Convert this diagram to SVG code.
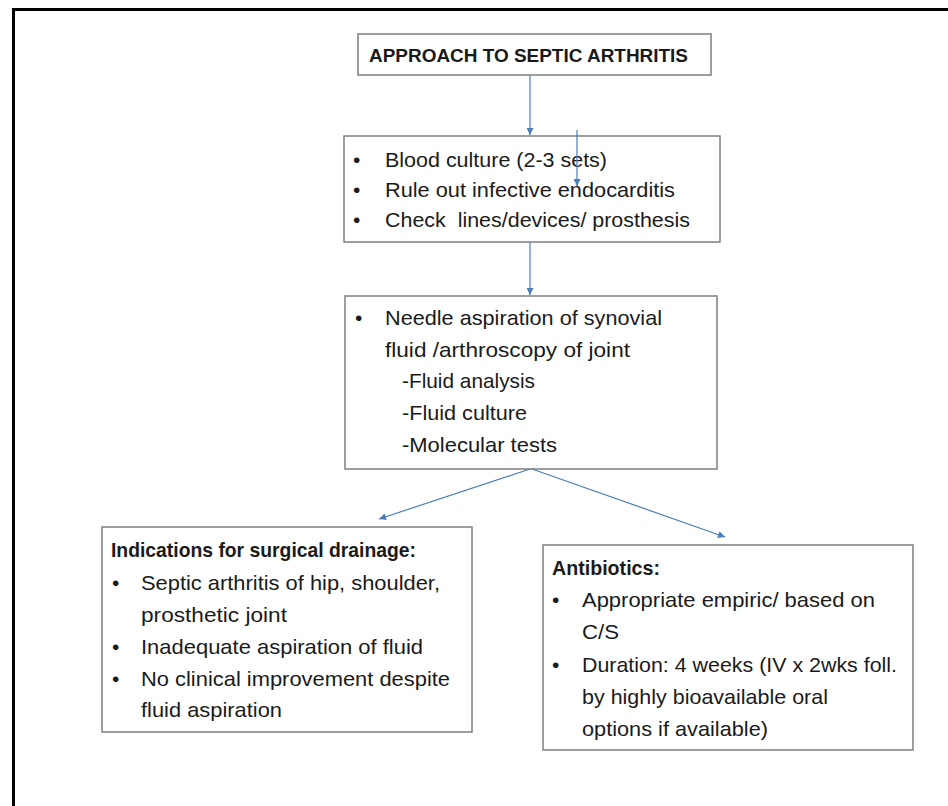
<svg xmlns="http://www.w3.org/2000/svg" width="948" height="806" viewBox="0 0 948 806">
<defs>
<marker id="ah" viewBox="0 0 10 10" refX="10" refY="5" markerWidth="8" markerHeight="7" markerUnits="userSpaceOnUse" orient="auto">
<path d="M0,0 L10,5 L0,10 z" fill="#4a7ebb"/>
</marker>
<style>
.box{fill:#ffffff;stroke:#7f7f7f;stroke-width:1.5}
.t{font-family:"Liberation Sans",Arial,sans-serif;font-size:21px;fill:#1a1a1a}
.b{font-weight:bold}
.h{font-size:19px}
.con{stroke:#4a7ebb;stroke-width:1.2;fill:none;marker-end:url(#ah)}
</style>
</defs>
<rect x="0" y="0" width="948" height="806" fill="#ffffff"/>
<path d="M13.5,806 L13.5,9.5 L948,9.5" fill="none" stroke="#000000" stroke-width="3"/>

<g id="title">
<rect class="box" x="358" y="34" width="353" height="41"/>
<text class="t b h" x="369" y="62" textLength="319" lengthAdjust="spacingAndGlyphs">APPROACH TO SEPTIC ARTHRITIS</text>
</g>

<g id="workup">
<rect class="box" x="344" y="136" width="376" height="106"/>
<text class="t" x="353" y="167">•</text>
<text class="t" x="385" y="167" textLength="222" lengthAdjust="spacingAndGlyphs">Blood culture (2-3 sets)</text>
<text class="t" x="353" y="197">•</text>
<text class="t" x="385" y="197" textLength="290" lengthAdjust="spacingAndGlyphs">Rule out infective endocarditis</text>
<text class="t" x="353" y="227">•</text>
<text class="t" x="385" y="227" textLength="305" lengthAdjust="spacingAndGlyphs" xml:space="preserve">Check  lines/devices/ prosthesis</text>
</g>

<g id="aspiration">
<rect class="box" x="345" y="296" width="372" height="173"/>
<text class="t" x="355" y="325">•</text>
<text class="t" x="385" y="325" textLength="277" lengthAdjust="spacingAndGlyphs">Needle aspiration of synovial</text>
<text class="t" x="385" y="357" textLength="245" lengthAdjust="spacingAndGlyphs">fluid /arthroscopy of joint</text>
<text class="t" x="402" y="388" textLength="133" lengthAdjust="spacingAndGlyphs">-Fluid analysis</text>
<text class="t" x="402" y="420" textLength="125" lengthAdjust="spacingAndGlyphs">-Fluid culture</text>
<text class="t" x="402" y="452" textLength="155" lengthAdjust="spacingAndGlyphs">-Molecular tests</text>
</g>

<g id="drainage">
<rect class="box" x="102" y="527" width="370" height="205"/>
<text class="t b" x="111" y="557" textLength="305" lengthAdjust="spacingAndGlyphs">Indications for surgical drainage:</text>
<text class="t" x="112" y="590">•</text>
<text class="t" x="141" y="590" textLength="299" lengthAdjust="spacingAndGlyphs">Septic arthritis of hip, shoulder,</text>
<text class="t" x="141" y="622" textLength="146" lengthAdjust="spacingAndGlyphs">prosthetic joint</text>
<text class="t" x="112" y="654">•</text>
<text class="t" x="141" y="654" textLength="282" lengthAdjust="spacingAndGlyphs">Inadequate aspiration of fluid</text>
<text class="t" x="112" y="686">•</text>
<text class="t" x="141" y="686" textLength="309" lengthAdjust="spacingAndGlyphs">No clinical improvement despite</text>
<text class="t" x="141" y="717" textLength="141" lengthAdjust="spacingAndGlyphs">fluid aspiration</text>
</g>

<g id="antibiotics">
<rect class="box" x="543" y="545" width="370" height="205"/>
<text class="t b" x="552" y="575" textLength="108" lengthAdjust="spacingAndGlyphs">Antibiotics:</text>
<text class="t" x="552" y="607">•</text>
<text class="t" x="582" y="607" textLength="293" lengthAdjust="spacingAndGlyphs">Appropriate empiric/ based on</text>
<text class="t" x="582" y="639" textLength="37" lengthAdjust="spacingAndGlyphs">C/S</text>
<text class="t" x="552" y="672">•</text>
<text class="t" x="582" y="672" textLength="315" lengthAdjust="spacingAndGlyphs">Duration: 4 weeks (IV x 2wks foll.</text>
<text class="t" x="582" y="704" textLength="246" lengthAdjust="spacingAndGlyphs">by highly bioavailable oral</text>
<text class="t" x="582" y="736" textLength="186" lengthAdjust="spacingAndGlyphs">options if available)</text>
</g>

<g id="connectors">
<line class="con" x1="530" y1="75" x2="530" y2="135"/>
<line class="con" x1="577" y1="130" x2="577" y2="186"/>
<line class="con" x1="530" y1="242" x2="530" y2="295"/>
<line class="con" x1="530" y1="469" x2="379" y2="519"/>
<line class="con" x1="532" y1="469" x2="725" y2="537"/>
</g>
</svg>
